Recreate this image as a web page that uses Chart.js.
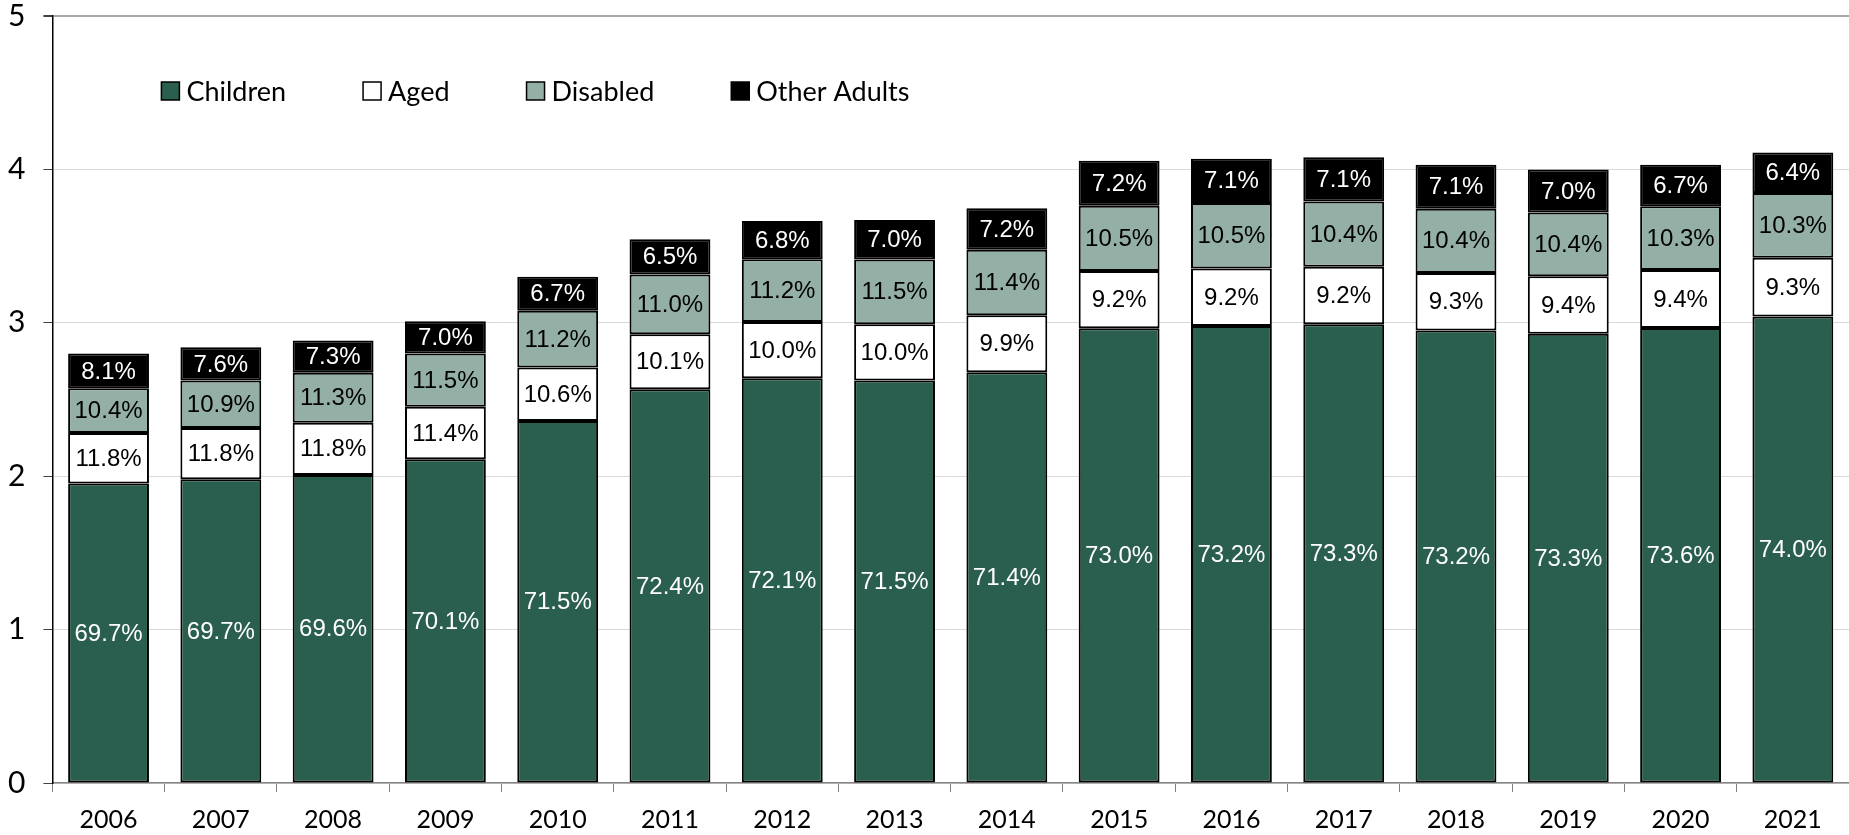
<!DOCTYPE html>
<html>
<head>
<meta charset="utf-8">
<script src="https://cdn.jsdelivr.net/npm/chart.js@4"></script>
<style>
  html, body { margin: 0; padding: 0; background: #fff; }
  #wrap { width: 1849px; height: 835px; }
</style>
</head>
<body>
<div id="wrap"><canvas id="chartEnrollment"></canvas></div>
<script>
// Anos e total de inscritos (milhões)
const years = ['2006', '2007', '2008', '2009', '2010', '2011', '2012', '2013',
               '2014', '2015', '2016', '2017', '2018', '2019', '2020', '2021'];
const totals = [2.80, 2.84, 2.885, 3.01, 3.30, 3.545, 3.66, 3.67,
                3.75, 4.06, 4.07, 4.08, 4.03, 3.995, 4.03, 4.11];

// Participação de cada grupo (%)
const childrenPct = [69.7, 69.7, 69.6, 70.1, 71.5, 72.4, 72.1, 71.5, 71.4, 73.0, 73.2, 73.3, 73.2, 73.3, 73.6, 74.0];
const agedPct     = [11.8, 11.8, 11.8, 11.4, 10.6, 10.1, 10.0, 10.0, 9.9, 9.2, 9.2, 9.2, 9.3, 9.4, 9.4, 9.3];
const disabledPct = [10.4, 10.9, 11.3, 11.5, 11.2, 11.0, 11.2, 11.5, 11.4, 10.5, 10.5, 10.4, 10.4, 10.4, 10.3, 10.3];
const otherPct    = [8.1, 7.6, 7.3, 7.0, 6.7, 6.5, 6.8, 7.0, 7.2, 7.2, 7.1, 7.1, 7.1, 7.0, 6.7, 6.4];

const yTicks = [0, 1, 2, 3, 4, 5];

// Altura de cada segmento = total * participação
function segment(pcts) {
    return pcts.map((p, i) => totals[i] * p / 100);
}

const groups = [
    { label: 'Children',     pct: childrenPct, fill: '#2a5e4f', text: '#ffffff' },
    { label: 'Aged',         pct: agedPct,     fill: '#ffffff', text: '#000000' },
    { label: 'Disabled',     pct: disabledPct, fill: '#94b0a6', text: '#000000' },
    { label: 'Other Adults', pct: otherPct,    fill: '#000000', text: '#ffffff' },
];

// Rótulos de porcentagem no centro de cada segmento
const segmentLabels = {
    id: 'segmentLabels',
    afterDatasetsDraw(chart) {
        const ctx = chart.ctx;
        ctx.save();
        ctx.font = '24px "Liberation Sans", Arial, sans-serif';
        ctx.textAlign = 'center';
        ctx.textBaseline = 'middle';
        chart.data.datasets.forEach((ds, i) => {
            const meta = chart.getDatasetMeta(i);
            ctx.fillStyle = groups[i].text;
            meta.data.forEach((bar, j) => {
                const p = bar.getProps(['x', 'y', 'base'], true);
                ctx.fillText(groups[i].pct[j].toFixed(1) + '%', p.x, (p.y + p.base) / 2 + 1);
            });
        });
        ctx.restore();
    }
};

// Legenda dentro da área do gráfico
const plotLegend = {
    id: 'plotLegend',
    afterDraw(chart) {
        const { ctx, chartArea } = chart;
        ctx.save();
        ctx.font = '27px Lato, sans-serif';
        ctx.textBaseline = 'middle';
        let x = chartArea.left + 109;
        const y = chartArea.top + 75;
        chart.data.datasets.forEach((ds) => {
            ctx.fillStyle = ds.backgroundColor;
            ctx.fillRect(x, y - 9, 18, 18);
            ctx.strokeStyle = '#000';
            ctx.lineWidth = 1.5;
            ctx.strokeRect(x, y - 9, 18, 18);
            ctx.fillStyle = '#000';
            ctx.fillText(ds.label, x + 25, y + 1);
            x += 25 + ctx.measureText(ds.label).width + 77;
        });
        ctx.restore();
    }
};

const ctxEnrollment = document.getElementById('chartEnrollment').getContext('2d');
new Chart(ctxEnrollment, {
    type: 'bar',
    data: {
        labels: years,
        datasets: groups.map(g => ({
            label: g.label,
            data: segment(g.pct),
            backgroundColor: g.fill,
            borderColor: '#000000',
            borderWidth: 2,
            borderSkipped: false,
            categoryPercentage: 1,
            barPercentage: 0.72,
        })),
    },
    options: {
        responsive: true,
        maintainAspectRatio: false,
        animation: false,
        layout: { padding: { left: -10, right: 0, top: 0, bottom: -13 } },
        plugins: {
            legend: { display: false },
            tooltip: { enabled: false },
        },
        scales: {
            x: {
                stacked: true,
                grid: {
                    offset: true,
                    drawOnChartArea: false,
                    drawTicks: true,
                    tickLength: 9,
                    color: '#7f7f7f',
                },
                border: { color: '#868686', width: 1.5 },
                ticks: {
                    color: '#000',
                    padding: 13,
                    font: { family: 'Lato', size: 25 },
                },
            },
            y: {
                stacked: true,
                min: 0,
                max: 5,
                afterBuildTicks(scale) {
                    scale.ticks = yTicks.map(v => ({ value: v }));
                },
                afterFit(scale) {
                    scale.paddingTop = 16;
                    scale.paddingBottom = 16;
                },
                grid: {
                    color: (c) => (c.tick && c.tick.value === 5 ? '#a8a8a8' : '#d9d9d9'),
                    lineWidth: (c) => (c.tick && c.tick.value === 5 ? 2 : 1),
                    tickColor: '#404040',
                    tickLength: 9,
                },
                border: { color: '#000', width: 1.5 },
                ticks: {
                    color: '#000',
                    padding: 18,
                    font: { family: 'Lato', size: 30 },
                },
            },
        },
    },
    plugins: [segmentLabels, plotLegend],
});
</script>
</body>
</html>
